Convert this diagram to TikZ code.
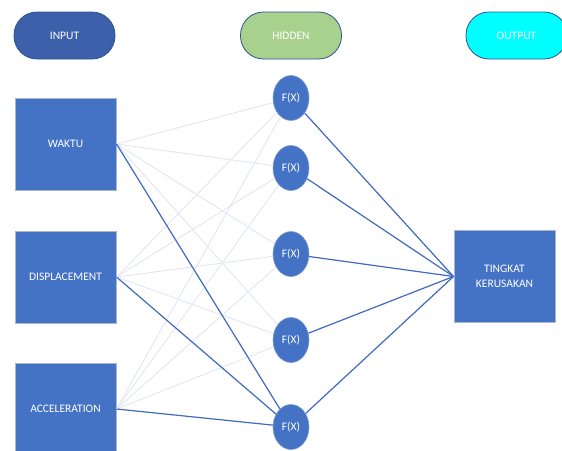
\documentclass[tikz,border=0pt]{standalone}
\usepackage{fontspec}
\setmainfont{Carlito}
\usepackage{tikz}
\usetikzlibrary{arrows.meta,positioning,shapes.geometric}
\definecolor{boxblue}{HTML}{4472C4}
\definecolor{boxedge}{HTML}{A9B6CE}
\definecolor{pillblue}{HTML}{3C60A9}
\definecolor{pilledge}{HTML}{2F528F}
\definecolor{pillgreen}{HTML}{A9D18E}
\definecolor{pillcyan}{HTML}{00FFFF}
\definecolor{faint}{HTML}{E2E5F3}
\definecolor{linkblue}{HTML}{4069C0}
\tikzset{
  pill/.style    = {draw=pilledge, line width=0.8pt, minimum width=101pt, minimum height=47pt,
                    rounded corners=23pt, text=white, font=\fontsize{11.5}{12}\selectfont},
  unit/.style    = {draw=boxedge, line width=1pt, fill=boxblue, minimum width=101pt,
                    minimum height=92pt, text=white, align=center,
                    font=\fontsize{11.5}{15}\selectfont},
  neuron/.style  = {ellipse, draw=boxblue!70!white, line width=0.6pt, fill=boxblue,
                    minimum width=36pt, minimum height=45pt, inner sep=0pt, text=white,
                    font=\fontsize{11.5}{12}\selectfont},
  weak/.style    = {faint, line width=0.9pt},
  strong/.style  = {linkblue, line width=1.2pt},
}
\begin{document}
\begin{tikzpicture}[x=1pt,y=-1pt]
  \useasboundingbox (0,0) rectangle (562,450);
  % layer headings
  \node[pill, fill=pillblue]  (hin)  at (64.5,35.5)  {INPUT};
  \node[pill, fill=pillgreen] (hhid) at (291,35.5)   {HIDDEN};
  \node[pill, fill=pillcyan]  (hout) at (516.5,35.5) {OUTPUT};
  % input units
  \node[unit] (waktu) at (65.5,144)   {WAKTU};
  \node[unit] (disp)  at (65.5,277)   {DISPLACEMENT};
  \node[unit] (acc)   at (65.5,409)   {ACCELERATION};
  % hidden units
  \foreach \i/\y in {1/98,2/168,3/254,4/340,5/427}
    \node[neuron] (h\i) at (291,\y) {F(X)};
  % output unit
  \node[unit] (out) at (504.5,276.5) {TINGKAT\\KERUSAKAN};
  % input -> hidden
  \foreach \s in {waktu,disp,acc}
    \foreach \i in {1,...,4}
      \draw[weak] (\s.east) -- (h\i);
  \foreach \s in {waktu,disp,acc}
    \draw[strong] (\s.east) -- (h5);
  % hidden -> output
  \foreach \i in {1,...,5}
    \draw[strong] (h\i) -- (out.west);
\end{tikzpicture}
\end{document}
